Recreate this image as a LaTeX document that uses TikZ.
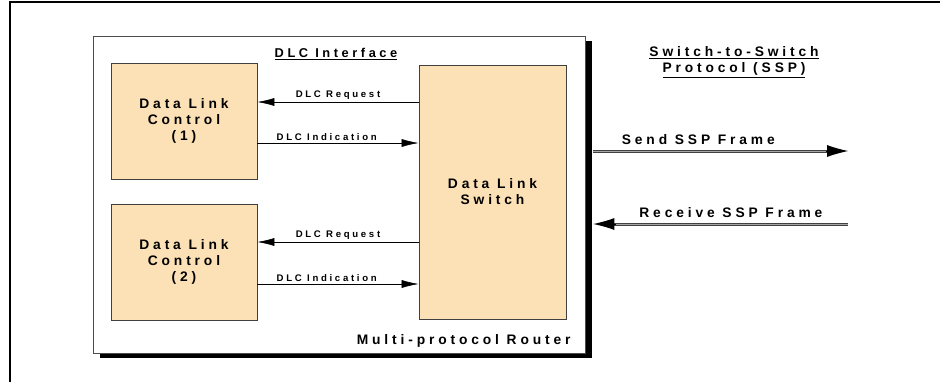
\documentclass[tikz,border=0pt]{standalone}
\usepackage{fontspec}
\setmainfont[LetterSpace=28]{Liberation Sans}
\usetikzlibrary{arrows.meta,positioning,shadows}
\definecolor{boxtan}{RGB}{252,225,182}

\begin{document}
\begin{tikzpicture}[x=1pt,y=-1pt,
                big/.style={font=\bfseries\fontsize{13.8}{16}\selectfont},
                small/.style={font=\bfseries\fontsize{9.6}{11}\selectfont, inner sep=2pt},
                ctlbox/.style={draw=black!75, fill=boxtan, line width=0.8pt, align=center, big},
                msg/.style={-{Latex[length=17pt,width=8pt]}, line width=0.6pt},
                sspline/.style={draw=black!75, double=black!35, double distance=1pt, line width=1pt},
                ssphead/.style={-{Latex[length=21pt,width=12pt]}, line width=0pt, black}]
                \useasboundingbox (0,0) rectangle (940,381);
                % frame round the whole page
                \draw [line width=2.5pt] (10,385) -- (10,2) -- (945,2);
                % the router and what is in it
                \node (router) [draw=black!70, fill=white, line width=0.8pt,
                    minimum width=492pt, minimum height=317pt,
                    drop shadow={shadow xshift=7pt, shadow yshift=-5pt, fill=black, opacity=1}]
                    at (339,194.5) {};
                \node (dlcone) [ctlbox, minimum width=146pt, minimum height=116pt] at (184,121)
                    {Data Link\\Control\\(1)};
                \node (dlctwo) [ctlbox, minimum width=146pt, minimum height=116pt] at (184,262)
                    {Data Link\\Control\\(2)};
                \node (switch) [ctlbox, minimum width=147pt, minimum height=254pt] at (492.5,192)
                    {Data Link\\Switch};
                \node (dlciface) [big, font=\bfseries\fontsize{12.8}{15}\selectfont] at (336,54)
                    {\underline{DLC Interface}};
                \node (routername) [big, anchor=east] at (574,341) {Multi-protocol Router};
                \node (sspname) [big, align=center] at (734,62)
                    {\underline{Switch-to-Switch}\\\underline{Protocol (SSP)}};
                % requests and indications
                \coordinate (reqone) at ([yshift=19pt]dlcone.east);
                \coordinate (indone) at ([yshift=-22pt]dlcone.east);
                \coordinate (reqtwo) at ([yshift=20pt]dlctwo.east);
                \coordinate (indtwo) at ([yshift=-22pt]dlctwo.east);
                \draw [msg] (switch.west |- reqone) -- node [small, above] {DLC Request} (reqone);
                \draw [msg] (indone) -- node [small, above, pos=0.43] {DLC Indication} (switch.west |- indone);
                \draw [msg] (switch.west |- reqtwo) -- node [small, above] {DLC Request} (reqtwo);
                \draw [msg] (indtwo) -- node [small, above, pos=0.43] {DLC Indication} (switch.west |- indtwo);
                % SSP frames
                \coordinate (sendend) at (848,151);
                \coordinate (recvstart) at (848,224);
                \coordinate (recvend) at ([xshift=8pt]router.east |- recvstart);
                \draw [sspline, shorten <=8pt, shorten >=18pt] (router.east |- sendend)
                    -- node [big, above=3pt, pos=0.43] {Send SSP Frame} (sendend);
                \draw [ssphead] ([xshift=-22pt]sendend) -- (sendend);
                \draw [sspline, shorten >=18pt] (recvstart)
                    -- node [big, above=3pt, pos=0.46] {Receive SSP Frame} (recvend);
                \draw [ssphead] ([xshift=22pt]recvend) -- (recvend);
            \end{tikzpicture}
\end{document}
